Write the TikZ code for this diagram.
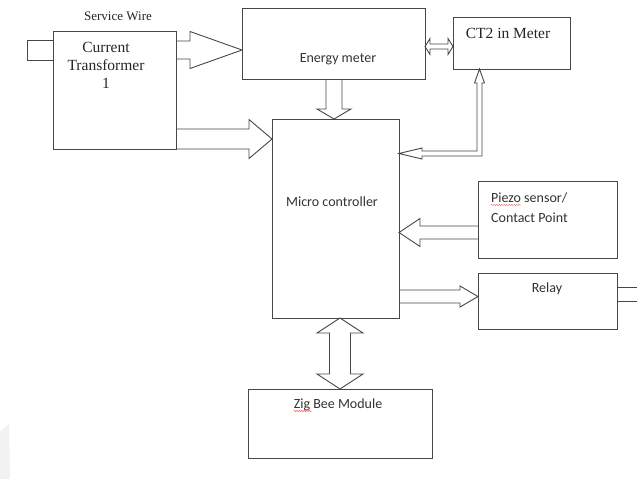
\documentclass[tikz,border=0pt]{standalone}
\usepackage{fontspec}
\setmainfont{Liberation Serif}
\newfontfamily\carl{Carlito}
\usetikzlibrary{calc,decorations.pathmorphing}
\tikzset{
  conn/.style={draw=black!72, line width=0.9pt, line join=miter},
  box/.style={draw=black!72, line width=0.9pt, inner sep=0pt, outer sep=0pt},
  sanstxt/.style={font=\carl\fontsize{14}{17}\selectfont, text=black!80, inner sep=0pt, anchor=base},
  seriftxt/.style={font=\fontsize{15.5}{18}\selectfont, text=black!85, inner sep=0pt, anchor=base},
  spell/.style={draw=red!65, line width=0.45pt, decorate, decoration={snake, amplitude=0.6pt, segment length=2.5pt}}
}
% #1 tail, #2 tip, #3 shaft half width, #4 head half width, #5 head length
\newcommand\arrR[5]{\draw[conn] let \p1=#1, \p2=#2 in (\x1,\y2+#3) -- (\x2-#5,\y2+#3) -- (\x2-#5,\y2+#4) -- (\p2) -- (\x2-#5,\y2-#4) -- (\x2-#5,\y2-#3) -- (\x1,\y2-#3);}
\newcommand\arrL[5]{\draw[conn] let \p1=#1, \p2=#2 in (\x1,\y2+#3) -- (\x2+#5,\y2+#3) -- (\x2+#5,\y2+#4) -- (\p2) -- (\x2+#5,\y2-#4) -- (\x2+#5,\y2-#3) -- (\x1,\y2-#3);}
\newcommand\arrD[5]{\draw[conn] let \p1=#1, \p2=#2 in (\x2-#3,\y1) -- (\x2-#3,\y2+#5) -- (\x2-#4,\y2+#5) -- (\p2) -- (\x2+#4,\y2+#5) -- (\x2+#3,\y2+#5) -- (\x2+#3,\y1);}
\newcommand\arrLR[5]{\draw[conn] let \p1=#1, \p2=#2 in (\p1) -- (\x1+#5,\y1+#4) -- (\x1+#5,\y1+#3) -- (\x2-#5,\y1+#3) -- (\x2-#5,\y1+#4) -- (\x2,\y1) -- (\x2-#5,\y1-#4) -- (\x2-#5,\y1-#3) -- (\x1+#5,\y1-#3) -- (\x1+#5,\y1-#4) -- cycle;}
\newcommand\arrUD[5]{\draw[conn] let \p1=#1, \p2=#2 in (\p1) -- (\x1+#4,\y1-#5) -- (\x1+#3,\y1-#5) -- (\x1+#3,\y2+#5) -- (\x1+#4,\y2+#5) -- (\x1,\y2) -- (\x1-#4,\y2+#5) -- (\x1-#3,\y2+#5) -- (\x1-#3,\y1-#5) -- (\x1-#4,\y1-#5) -- cycle;}
\begin{document}
\begin{tikzpicture}[x=1pt,y=-1pt]
\useasboundingbox (0,0) rectangle (637,479);
\fill[white] (0,0) rectangle (637,479);
% faint watermark corner
\fill[gray!10] (0,432) -- (9,423) -- (10,479) -- (0,479) -- cycle;

% boxes
\node[box, minimum width=123pt, minimum height=118pt] (ct1) at (114.5,90) {};
\node[box, minimum width=183pt, minimum height=71pt] (em) at (333.5,43.5) {};
\node[box, minimum width=117pt, minimum height=52pt] (ct2) at (511.5,43) {};
\node[box, minimum width=127pt, minimum height=199pt] (mc) at (335.5,218.5) {};
\node[box, minimum width=139pt, minimum height=77pt] (pz) at (547.5,219.5) {};
\node[box, minimum width=139pt, minimum height=56pt] (rl) at (547.5,301) {};
\node[box, minimum width=184pt, minimum height=69pt] (zb) at (340,423.5) {};

% texts
\node[seriftxt, font=\fontsize{13}{16}\selectfont] (tsw) at (118,20) {Service Wire};
\node[seriftxt] (tct1a) at (106,52) {Current};
\node[seriftxt] (tct1b) at (106,70) {Transformer};
\node[seriftxt] (tct1c) at (106,88) {1};
\node[seriftxt] (tct2) at (508,38) {CT2 in Meter};
\node[sanstxt] (tem) at (338,62) {Energy meter};
\node[sanstxt] (tmc) at (332,206) {Micro controller};
\node[sanstxt, anchor=base west] (tpz1) at (491,202) {Piezo sensor/};
\node[sanstxt, anchor=base west] (tpz2) at (491,222) {Contact Point};
\node[sanstxt] (trl) at (547,292) {Relay};
\node[sanstxt] (tzb) at (338,408) {Zig Bee Module};
\draw[spell] ($(tpz1.base west)+(0,3)$) -- ++(30,0);
\draw[spell] ($(tzb.base west)+(0,3)$) -- ++(18,0);

% service wire stub
\coordinate (sw) at (27,50);
\draw[conn] (ct1.west |- 0,40) -- (sw |- 0,40) -- (sw |- 0,60) -- (ct1.west |- 0,60);

% block arrows
\arrR{(ct1.east)}{(em.west |- 0,50)}{9pt}{18.5pt}{52pt}
\arrR{(ct1.east)}{(mc.west |- 0,139)}{10pt}{19.5pt}{23pt}
\arrD{(em.south)}{(334,0 |- mc.north)}{8pt}{17pt}{10pt}
\arrLR{(em.east |- 0,46.5)}{(ct2.west |- 0,46.5)}{2.5pt}{8pt}{5pt}
\arrL{(pz.west)}{(mc.east |- 0,232.5)}{6.5pt}{14pt}{21pt}
\arrR{(mc.east)}{(rl.west |- 0,296.5)}{6.5pt}{10.5pt}{18pt}
\arrUD{(340,0 |- mc.south)}{(340,0 |- zb.north)}{10.5pt}{23pt}{15pt}

% CT2 feedback pipe
\coordinate (fb) at (479.5,153.5);
\draw[conn] (mc.east |- fb) -- ($(fb)+(-57.5,-5.5)$) -- ($(fb)+(-57.5,-2.5)$) -- ($(fb)+(-2.5,-2.5)$)
  -- ($(fb |- ct2.south)+(-2.5,14)$) -- ($(fb |- ct2.south)+(-5,14)$) -- (fb |- ct2.south)
  -- ($(fb |- ct2.south)+(5,14)$) -- ($(fb |- ct2.south)+(2.5,14)$) -- ($(fb)+(2.5,2.5)$)
  -- ($(fb)+(-57.5,2.5)$) -- ($(fb)+(-57.5,5.5)$) -- cycle;

% relay output
\coordinate (out) at (637,294);
\draw[conn] (rl.east |- 0,287) -- (out |- 0,287);
\draw[conn] (rl.east |- 0,301) -- (out |- 0,301);
\end{tikzpicture}
\end{document}
